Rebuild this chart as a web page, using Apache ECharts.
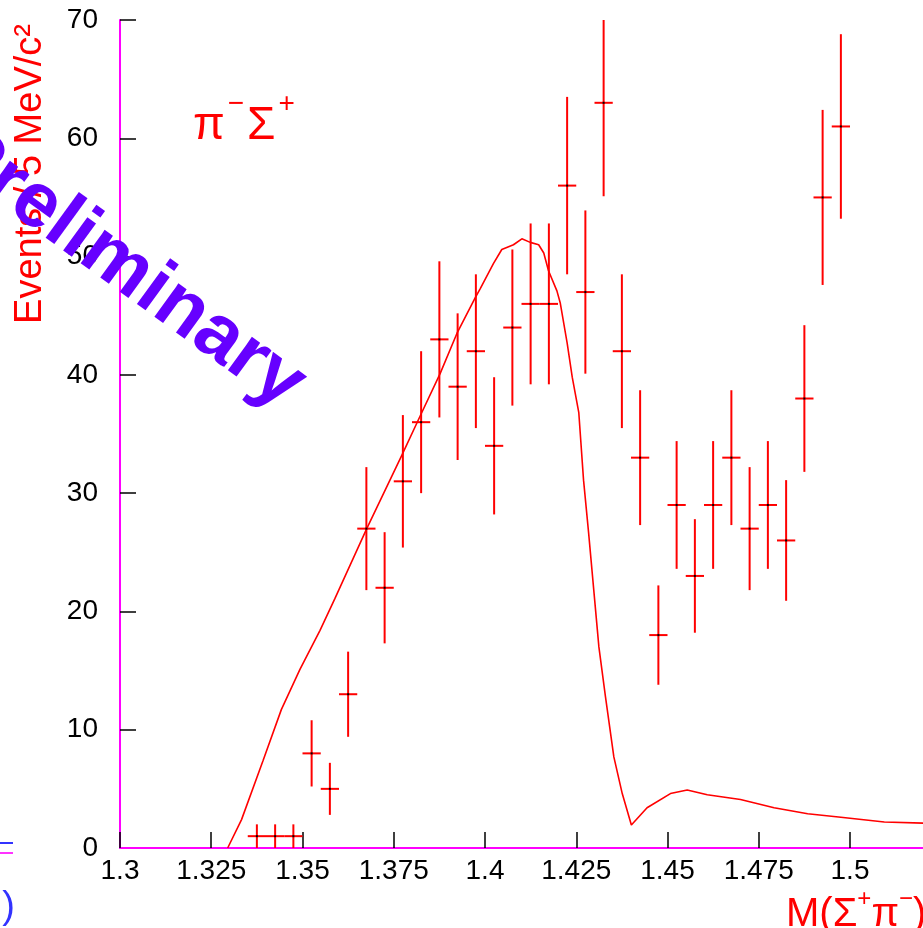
<!DOCTYPE html>
<html>
<head>
<meta charset="utf-8">
<title>M(Σ+π-) spectrum</title>
<script src="https://cdn.jsdelivr.net/npm/echarts@6/dist/echarts.min.js"></script>
<style>
  html, body { margin: 0; padding: 0; background: #fff; }
  #chart { width: 923px; height: 928px; }
</style>
</head>
<body>
<div id="chart"></div>
<script>
// 5 MeV bins, centres in GeV
const binCenters = [
  1.3375, 1.3425, 1.3475, 1.3525, 1.3575, 1.3625, 1.3675, 1.3725, 1.3775, 1.3825, 1.3875,
  1.3925, 1.3975, 1.4025, 1.4075, 1.4125, 1.4175, 1.4225, 1.4275, 1.4325, 1.4375, 1.4425,
  1.4475, 1.4525, 1.4575, 1.4625, 1.4675, 1.4725, 1.4775, 1.4825, 1.4875, 1.4925, 1.4975
]
const counts = [
  1, 1, 1, 8, 5, 13, 27, 22, 31, 36, 43,
  39, 42, 34, 44, 46, 46, 56, 47, 63, 42, 33,
  18, 29, 23, 29, 33, 27, 29, 26, 38, 55, 61
]
const countErrors = [
  1, 1, 1, 2.8, 2.2, 3.6, 5.2, 4.7, 5.6, 6, 6.6,
  6.2, 6.5, 5.8, 6.6, 6.8, 6.8, 7.5, 6.9, 7.9, 6.5, 5.7,
  4.2, 5.4, 4.8, 5.4, 5.7, 5.2, 5.4, 5.1, 6.2, 7.4, 7.8
]
const halfBin = 0.0025

// fitted curve
const fitX = [
  1.3295, 1.3333, 1.3392, 1.3442, 1.3493, 1.3548, 1.3589, 1.3676, 1.3772, 1.3822, 1.3877,
  1.3923, 1.3973, 1.3987, 1.4023, 1.4046, 1.4078, 1.4101, 1.4124, 1.4147, 1.4161, 1.4174,
  1.4197, 1.4206, 1.4225, 1.4239, 1.4257, 1.4270, 1.4284, 1.4298, 1.4312, 1.4330, 1.4353,
  1.4376, 1.4401, 1.4444, 1.4508, 1.4554, 1.4609, 1.4700, 1.4792, 1.4884, 1.4975, 1.5094, 1.5203
]
const fitY = [
  0, 2.4, 7.4, 11.7, 15.1, 18.4, 21.1, 27.0, 33.2, 36.5, 40.1,
  43.5, 46.5, 47.3, 49.4, 50.6, 51.0, 51.5, 51.2, 51.0, 50.3, 48.8,
  47.1, 46.1, 42.7, 39.8, 36.8, 31.1, 26.6, 21.8, 17.0, 12.8, 7.7,
  4.6, 1.95, 3.4, 4.6, 4.9, 4.5, 4.1, 3.4, 2.9, 2.6, 2.2, 2.1
]

const xTickValues = [1.3, 1.325, 1.35, 1.375, 1.4, 1.425, 1.45, 1.475, 1.5]
const yTickValues = [10, 20, 30, 40, 50, 60, 70]
const yMax = 70

const chart = echarts.init(document.getElementById('chart'))

const pointData = binCenters.map((x, i) => [x, counts[i], countErrors[i]])
const fitData = fitX.map((x, i) => [x, fitY[i]])

const option = {
  animation: false,
  backgroundColor: '#ffffff',
  grid: { left: 120, right: 0, top: 20, bottom: 80, containLabel: false },
  xAxis: {
    type: 'value',
    min: 1.3,
    max: 1.52,
    axisLine: { lineStyle: { color: '#ff00ff', width: 2 } },
    axisTick: { inside: true, length: 16, customValues: xTickValues, lineStyle: { color: '#000', width: 1.5 } },
    axisLabel: {
      customValues: xTickValues,
      color: '#000',
      fontSize: 28,
      fontFamily: 'Liberation Sans',
      margin: 9
    },
    splitLine: { show: false }
  },
  yAxis: {
    type: 'value',
    min: 0,
    max: yMax,
    interval: 10,
    axisLine: { show: true, lineStyle: { color: '#ff00ff', width: 2 } },
    axisTick: { show: true, inside: true, length: 16, customValues: yTickValues, lineStyle: { color: '#000', width: 1.5 } },
    axisLabel: {
      color: '#000',
      fontSize: 28,
      fontFamily: 'Liberation Sans',
      margin: 22
    },
    splitLine: { show: false }
  },
  series: [
    {
      type: 'line',
      data: fitData,
      showSymbol: false,
      symbol: 'none',
      lineStyle: { color: '#ff0000', width: 1.6 },
      z: 2
    },
    {
      type: 'custom',
      data: pointData,
      encode: { x: 0, y: 1 },
      z: 3,
      renderItem: function (params, api) {
        const x = api.value(0)
        const y = api.value(1)
        const err = api.value(2)
        const centre = api.coord([x, y])
        const top = api.coord([x, Math.min(y + err, yMax)])
        const bottom = api.coord([x, Math.max(y - err, 0)])
        const left = api.coord([x - halfBin, y])
        const right = api.coord([x + halfBin, y])
        const barStyle = { stroke: '#ff0000', lineWidth: 2 }
        return {
          type: 'group',
          children: [
            { type: 'line', shape: { x1: top[0], y1: top[1], x2: bottom[0], y2: bottom[1] }, style: barStyle },
            { type: 'line', shape: { x1: left[0], y1: left[1], x2: right[0], y2: right[1] }, style: barStyle },
            { type: 'rect', shape: { x: centre[0] - 1, y: centre[1] - 1, width: 2, height: 2 }, style: { fill: '#000' } }
          ]
        }
      }
    }
  ],
  graphic: [
    // cut-off bits of a neighbouring panel on the left
    { type: 'line', shape: { x1: 0, y1: 843, x2: 13, y2: 843 }, style: { stroke: '#3333ff', lineWidth: 2 } },
    { type: 'line', shape: { x1: 0, y1: 853, x2: 13, y2: 853 }, style: { stroke: '#ff33ff', lineWidth: 2 } },
    {
      type: 'text', x: 15, y: 908,
      style: { text: ')', fill: '#3333ff', fontSize: 38, fontFamily: 'Liberation Sans', align: 'right', verticalAlign: 'middle' }
    },
    {
      type: 'text', x: 31, y: 174, rotation: Math.PI / 2,
      style: {
        text: 'Events / 5 MeV/c²',
        fill: '#ff0000',
        fontSize: 38,
        fontFamily: 'Liberation Sans',
        align: 'center',
        verticalAlign: 'middle'
      }
    },
    {
      type: 'text', x: 193, y: 90,
      style: {
        text: '{n|π}{s|−}{n|Σ}{s|+}',
        align: 'left',
        verticalAlign: 'top',
        rich: {
          n: { fill: '#ff0000', fontSize: 46, lineHeight: 72, fontFamily: 'Liberation Sans' },
          s: { fill: '#ff0000', fontSize: 28, lineHeight: 26, verticalAlign: 'top', fontFamily: 'Liberation Sans', padding: [0, 3] }
        }
      }
    },
    {
      type: 'text', x: 786, y: 887,
      style: {
        text: '{n|M(Σ}{s|+}{n|π}{s|−}{n|)}',
        align: 'left',
        verticalAlign: 'top',
        rich: {
          n: { fill: '#ff0000', fontSize: 40, lineHeight: 56, fontFamily: 'Liberation Sans' },
          s: { fill: '#ff0000', fontSize: 24, lineHeight: 24, verticalAlign: 'top', fontFamily: 'Liberation Sans' }
        }
      }
    },
    {
      type: 'text', x: 124, y: 268, rotation: -36 * Math.PI / 180, z: 100,
      style: {
        text: 'Preliminary',
        fill: '#6600ff',
        fontSize: 78,
        fontWeight: 'bold',
        fontFamily: 'Liberation Sans',
        align: 'center',
        verticalAlign: 'middle'
      }
    }
  ]
}

chart.setOption(option)
window.addEventListener('resize', () => chart.resize())
</script>
</body>
</html>
